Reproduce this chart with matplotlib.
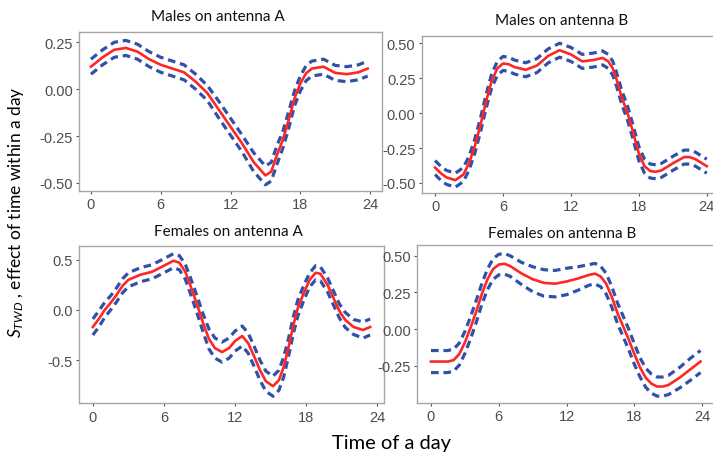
import numpy as np
import matplotlib
matplotlib.use("Agg")
import matplotlib.pyplot as plt

plt.rcParams['font.family'] = ['Liberation Sans', 'DejaVu Sans']
plt.rcParams['mathtext.fontset'] = 'custom'
plt.rcParams['mathtext.rm'] = 'Lato'
plt.rcParams['mathtext.it'] = 'Lato:italic'

# values
titles = ["Males on antenna A", "Males on antenna B",
          "Females on antenna A", "Females on antenna B"]
xticks = [0, 6, 12, 18, 24]

ma_hours = [0, 1, 2, 3, 4, 4.5, 5, 6, 7, 8, 9, 10, 11, 12, 13, 14, 15, 15.5, 16, 16.5,
            17, 17.5, 18, 18.5, 19, 20, 21, 22, 23, 23.8]
ma_fit = [0.12, 0.17, 0.21, 0.22, 0.20, 0.18, 0.16, 0.13, 0.11, 0.09, 0.04, -0.02, -0.11,
          -0.20, -0.29, -0.39, -0.46, -0.44, -0.35, -0.27, -0.165, -0.05, 0.03, 0.085,
          0.11, 0.12, 0.087, 0.08, 0.09, 0.11]
ma_ci = [0.04, 0.04, 0.04, 0.04, 0.04, 0.04, 0.04, 0.04, 0.04, 0.04, 0.04, 0.04, 0.045,
         0.045, 0.045, 0.05, 0.05, 0.05, 0.05, 0.045, 0.045, 0.04, 0.04, 0.04, 0.04, 0.04,
         0.04, 0.04, 0.04, 0.04]

mb_hours = [0, 0.5, 1, 1.8, 2.5, 3, 3.5, 4, 4.5, 5, 5.5, 6, 6.5, 7, 8, 9, 10, 11, 12, 13,
            14, 14.8, 15.3, 15.7, 16, 16.5, 17, 17.5, 18, 18.5, 19, 19.5, 20, 21, 22, 22.5,
            23, 24]
mb_fit = [-0.39, -0.43, -0.46, -0.48, -0.44, -0.36, -0.24, -0.09, 0.08, 0.23, 0.32, 0.355,
          0.35, 0.33, 0.31, 0.34, 0.41, 0.45, 0.42, 0.37, 0.38, 0.395, 0.37, 0.32, 0.25,
          0.11, 0.0, -0.14, -0.29, -0.38, -0.415, -0.42, -0.41, -0.36, -0.315, -0.315,
          -0.33, -0.38]
mb_ci = [0.05] * len(mb_hours)

fa_hours = [0, 0.5, 1, 1.5, 2, 2.5, 3, 4, 5, 6, 6.8, 7.3, 7.8, 8.3, 8.8, 9.3, 9.8, 10.3,
            10.9, 11.5, 12, 12.6, 13.1, 13.6, 14.1, 14.6, 15.2, 15.7, 16.1, 16.5, 16.9,
            17.3, 17.8, 18.3, 18.8, 19.2, 19.8, 20.3, 20.8, 21.3, 22, 22.8, 23.4]
fa_fit = [-0.17, -0.09, 0.0, 0.07, 0.15, 0.24, 0.30, 0.35, 0.38, 0.44, 0.49, 0.47, 0.38,
          0.22, 0.05, -0.13, -0.29, -0.38, -0.42, -0.38, -0.31, -0.26, -0.33, -0.46, -0.60,
          -0.71, -0.76, -0.70, -0.57, -0.38, -0.16, 0.02, 0.17, 0.30, 0.37, 0.36, 0.25,
          0.12, -0.01, -0.10, -0.17, -0.20, -0.17]
fa_ci = [0.08, 0.08, 0.075, 0.07, 0.07, 0.07, 0.07, 0.07, 0.07, 0.07, 0.07, 0.07, 0.075,
         0.08, 0.085, 0.09, 0.1, 0.1, 0.1, 0.1, 0.1, 0.1, 0.1, 0.1, 0.1, 0.1, 0.1, 0.1,
         0.1, 0.09, 0.085, 0.08, 0.075, 0.07, 0.07, 0.07, 0.07, 0.07, 0.07, 0.075, 0.075,
         0.08, 0.08]

fb_hours = [0, 1, 1.5, 2, 2.5, 3, 3.5, 4, 4.5, 5, 5.5, 6, 6.5, 7, 8, 9, 10, 11, 12, 13,
            14, 14.5, 15, 15.5, 16, 16.5, 17, 17.5, 18, 18.5, 19, 19.5, 20, 20.5, 21, 22,
            23, 23.85]
fb_fit = [-0.22, -0.22, -0.22, -0.21, -0.17, -0.09, 0.01, 0.12, 0.24, 0.34, 0.41, 0.44,
          0.445, 0.43, 0.38, 0.34, 0.315, 0.31, 0.325, 0.345, 0.37, 0.378, 0.36, 0.31,
          0.22, 0.11, 0.02, -0.07, -0.17, -0.26, -0.33, -0.37, -0.39, -0.39, -0.38, -0.33,
          -0.27, -0.22]
fb_ci = [0.075, 0.075, 0.075, 0.075, 0.075, 0.075, 0.075, 0.075, 0.07, 0.07, 0.07, 0.07,
         0.07, 0.07, 0.075, 0.085, 0.09, 0.09, 0.09, 0.08, 0.07, 0.07, 0.07, 0.07, 0.07,
         0.07, 0.07, 0.07, 0.07, 0.065, 0.065, 0.065, 0.065, 0.065, 0.065, 0.07, 0.075,
         0.075]

panels = [
    (ma_hours, ma_fit, ma_ci, [0.1108, 0.5862, 0.425, 0.3427], (-1.03, 25.03),
     (-0.543, 0.305), [-0.50, -0.25, 0.00, 0.25], '{:.2f}'),
    (mb_hours, mb_fit, mb_ci, [0.5914, 0.5819, 0.411, 0.339], (-1.18, 24.7),
     (-0.572, 0.554), [-0.50, -0.25, 0.00, 0.25, 0.50], '{:.2f}'),
    (fa_hours, fa_fit, fa_ci, [0.1108, 0.1287, 0.4278, 0.3397], (-1.17, 24.57),
     (-0.93, 0.64), [-0.5, 0.0, 0.5], '{:.1f}'),
    (fb_hours, fb_fit, fb_ci, [0.5853, 0.1293, 0.417, 0.3405], (-1.21, 25.1),
     (-0.502, 0.573), [-0.25, 0.00, 0.25, 0.50], '{:.2f}'),
]
title_pos = [(218, 17), (562, 21), (228, 232), (562, 234)]

red = '#FF2626'
blue = '#2F52A8'

fig = plt.figure(figsize=(7.13, 4.64), dpi=100)
W, H = 713, 464

for (hrs, fit, ci, rect, xl, yl, yt, fmt), title, (tx, ty) in zip(panels, titles, title_pos):
    hrs = np.array(hrs)
    fit = np.array(fit)
    ci = np.array(ci)
    ax = fig.add_axes(rect)
    ax.plot(hrs, fit + ci, color=blue, lw=2.3, linestyle=(0, (2.4, 1.5)),
            dash_capstyle='butt')
    ax.plot(hrs, fit - ci, color=blue, lw=2.3, linestyle=(0, (2.4, 1.5)),
            dash_capstyle='butt')
    ax.plot(hrs, fit, color=red, lw=1.9)
    ax.set_xlim(*xl)
    ax.set_ylim(*yl)
    ax.set_xticks(xticks)
    ax.set_yticks(yt)
    ax.set_yticklabels([fmt.format(v) for v in yt])
    ax.tick_params(labelsize=10.5, labelcolor='#4D4D4D', color='#555555', length=2.5,
                   width=0.8, pad=2)
    for s in ax.spines.values():
        s.set_color('#A6A6A6')
        s.set_linewidth(1.0)
    fig.text(tx / W, 1 - ty / H, title, ha='center', va='center', fontsize=11,
             family=['Lato', 'DejaVu Sans'], color='#111111')

fig.text(16 / W, 1 - 212 / H, r'$S_{TWD}$ , effect of time within a day', rotation=90,
         ha='center', va='center', fontsize=12.5, family=['Lato', 'DejaVu Sans'])
fig.text(392 / W, 1 - 444 / H, 'Time of a day', ha='center', va='center', fontsize=14.5,
         family=['Lato', 'DejaVu Sans'])

fig.savefig('out.png', dpi=100)
